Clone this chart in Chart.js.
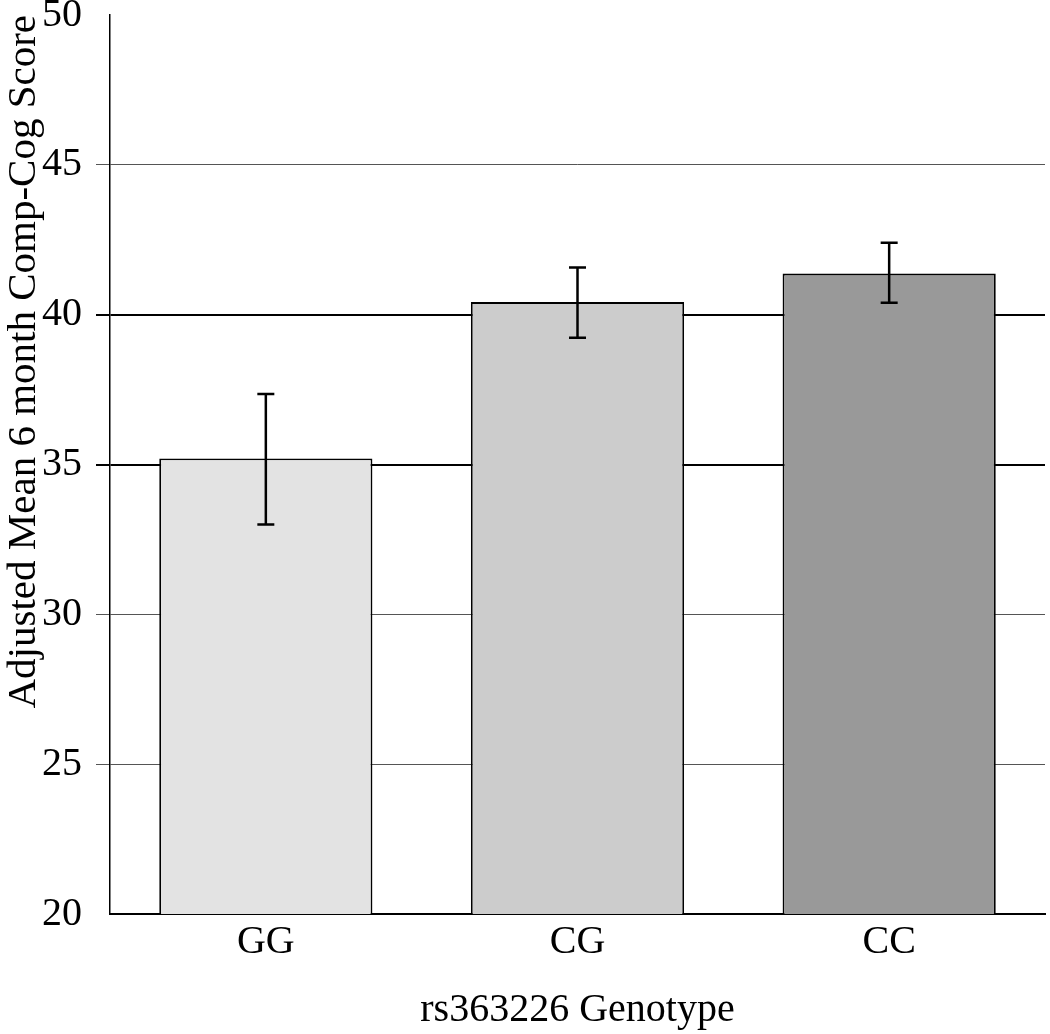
<!DOCTYPE html>
<html>
<head>
<meta charset="utf-8">
<script src="https://cdn.jsdelivr.net/npm/chart.js@4/dist/chart.umd.min.js"></script>
<style>
  html, body { margin: 0; padding: 0; background: #fff; }
  #wrap { width: 1050px; height: 1034px; }
</style>
</head>
<body>
<div id="wrap"><canvas id="chartGenotipo"></canvas></div>
<script>
const genotipos = ["GG", "CG", "CC"];
const medias = [35.2, 40.42, 41.37];
const errorAlto = [37.35, 41.57, 42.4];
const errorBajo = [33.0, 39.23, 40.4];
const colores = ["#e3e3e3", "#cccccc", "#999999"];
const ticksY = [20, 25, 30, 35, 40, 45, 50];

// barras de error dibujadas con las escalas del grafico
const barrasError = {
  id: "barrasError",
  afterDatasetsDraw(chart) {
    const { ctx, scales } = chart;
    const meta = chart.getDatasetMeta(0);
    ctx.save();
    ctx.strokeStyle = "#000";
    ctx.lineWidth = 2.5;
    meta.data.forEach((bar, i) => {
      const x = bar.x;
      const yAlto = scales.y.getPixelForValue(errorAlto[i]);
      const yBajo = scales.y.getPixelForValue(errorBajo[i]);
      ctx.beginPath();
      ctx.moveTo(x, yAlto); ctx.lineTo(x, yBajo);
      ctx.moveTo(x - 8.5, yAlto); ctx.lineTo(x + 8.5, yAlto);
      ctx.moveTo(x - 8.5, yBajo); ctx.lineTo(x + 8.5, yBajo);
      ctx.stroke();
    });
    ctx.restore();
  }
};

const fuente = "'Liberation Serif', 'Times New Roman', serif";

new Chart(document.getElementById("chartGenotipo"), {
  type: "bar",
  data: {
    labels: genotipos,
    datasets: [{
      data: medias,
      backgroundColor: colores,
      borderColor: "#000",
      borderWidth: 1.8,
      barPercentage: 0.684,
      categoryPercentage: 1
    }]
  },
  options: {
    responsive: true,
    maintainAspectRatio: false,
    animation: false,
    layout: { padding: { top: 15, right: 5, left: 0, bottom: 0 } },
    plugins: {
      legend: { display: false },
      tooltip: { enabled: false }
    },
    scales: {
      x: {
        grid: { display: false, drawTicks: false },
        border: { display: true, color: "#000", width: 2 },
        ticks: { color: "#000", font: { family: fuente, size: 40 }, padding: 4 },
        title: {
          display: true,
          text: "rs363226 Genotype",
          color: "#000",
          font: { family: fuente, size: 40 },
          padding: { top: 0, bottom: 0 }
        },
        afterFit: s => { s.height = 120; s.paddingLeft = 0; s.paddingRight = 0; }
      },
      y: {
        min: 20,
        max: 50,
        afterBuildTicks: s => { s.ticks = ticksY.map(v => ({ value: v })); },
        grid: {
          color: c => {
            const v = c.tick && c.tick.value;
            if (v === 50 || v === 20) return "rgba(0,0,0,0)";
            return (v === 35 || v === 40) ? "#000" : "#555";
          },
          lineWidth: c => {
            const v = c.tick && c.tick.value;
            return (v === 35 || v === 40) ? 2 : 1;
          },
          tickLength: 14
        },
        border: { display: true, color: "#000", width: 1.5 },
        ticks: { color: "#000", font: { family: fuente, size: 40 }, padding: 14 },
        title: {
          display: true,
          text: "Adjusted Mean 6 month Comp-Cog Score",
          align: "end",
          color: "#000",
          font: { family: fuente, size: 41 },
          padding: { top: 0, bottom: 0 }
        },
        afterFit: s => { s.width = 110; s.paddingTop = 0; s.paddingBottom = 0; }
      }
    }
  },
  plugins: [barrasError]
});
</script>
</body>
</html>
